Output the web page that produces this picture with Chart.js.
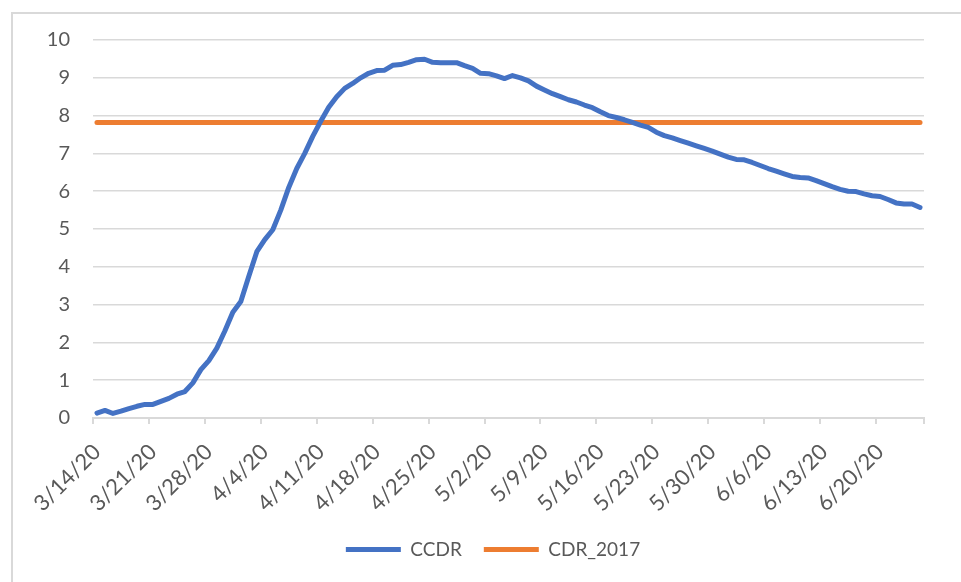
<!DOCTYPE html>
<html>
<head>
<meta charset="utf-8">
<script src="https://cdn.jsdelivr.net/npm/chart.js@4/dist/chart.umd.min.js"></script>
<style>
  html, body { margin: 0; padding: 0; background: #ffffff; }
  #wrap { position: relative; width: 961px; height: 582px; }
  canvas { display: block; }
</style>
</head>
<body>
<div id="wrap"><canvas id="c" width="961" height="582"></canvas></div>
<script>
const categories = [
  "3/14/20","3/15/20","3/16/20","3/17/20","3/18/20","3/19/20","3/20/20","3/21/20","3/22/20","3/23/20",
  "3/24/20","3/25/20","3/26/20","3/27/20","3/28/20","3/29/20","3/30/20","3/31/20",
  "4/1/20","4/2/20","4/3/20","4/4/20","4/5/20","4/6/20","4/7/20","4/8/20","4/9/20","4/10/20",
  "4/11/20","4/12/20","4/13/20","4/14/20","4/15/20","4/16/20","4/17/20","4/18/20","4/19/20","4/20/20",
  "4/21/20","4/22/20","4/23/20","4/24/20","4/25/20","4/26/20","4/27/20","4/28/20","4/29/20","4/30/20",
  "5/1/20","5/2/20","5/3/20","5/4/20","5/5/20","5/6/20","5/7/20","5/8/20","5/9/20","5/10/20",
  "5/11/20","5/12/20","5/13/20","5/14/20","5/15/20","5/16/20","5/17/20","5/18/20","5/19/20","5/20/20",
  "5/21/20","5/22/20","5/23/20","5/24/20","5/25/20","5/26/20","5/27/20","5/28/20","5/29/20","5/30/20","5/31/20",
  "6/1/20","6/2/20","6/3/20","6/4/20","6/5/20","6/6/20","6/7/20","6/8/20","6/9/20","6/10/20",
  "6/11/20","6/12/20","6/13/20","6/14/20","6/15/20","6/16/20","6/17/20","6/18/20","6/19/20","6/20/20",
  "6/21/20","6/22/20","6/23/20","6/24/20","6/25/20"
];

const ccdr = [
  0.13, 0.20, 0.12, 0.18, 0.25, 0.31, 0.36, 0.36, 0.44, 0.52,
  0.63, 0.70, 0.93, 1.28, 1.52, 1.85, 2.30, 2.80, 3.08, 3.75,
  4.40, 4.72, 4.98, 5.50, 6.10, 6.60, 7.00, 7.45, 7.85, 8.22,
  8.50, 8.72, 8.85, 9.00, 9.12, 9.19, 9.20, 9.33, 9.35, 9.41,
  9.48, 9.49, 9.41, 9.40, 9.40, 9.40, 9.32, 9.25, 9.12, 9.11,
  9.05, 8.98, 9.06, 9.00, 8.92, 8.78, 8.68, 8.58, 8.50, 8.42,
  8.36, 8.28, 8.21, 8.10, 8.00, 7.95, 7.89, 7.82, 7.75, 7.69,
  7.56, 7.47, 7.41, 7.34, 7.27, 7.20, 7.13, 7.06, 6.98, 6.90,
  6.84, 6.83, 6.76, 6.68, 6.60, 6.53, 6.46, 6.39, 6.36, 6.35,
  6.28, 6.20, 6.12, 6.05, 6.00, 5.99, 5.93, 5.88, 5.86, 5.78,
  5.69, 5.66, 5.66, 5.57
];

const cdr2017 = [
  7.82, 7.82, 7.82, 7.82, 7.82, 7.82, 7.82, 7.82, 7.82, 7.82,
  7.82, 7.82, 7.82, 7.82, 7.82, 7.82, 7.82, 7.82, 7.82, 7.82,
  7.82, 7.82, 7.82, 7.82, 7.82, 7.82, 7.82, 7.82, 7.82, 7.82,
  7.82, 7.82, 7.82, 7.82, 7.82, 7.82, 7.82, 7.82, 7.82, 7.82,
  7.82, 7.82, 7.82, 7.82, 7.82, 7.82, 7.82, 7.82, 7.82, 7.82,
  7.82, 7.82, 7.82, 7.82, 7.82, 7.82, 7.82, 7.82, 7.82, 7.82,
  7.82, 7.82, 7.82, 7.82, 7.82, 7.82, 7.82, 7.82, 7.82, 7.82,
  7.82, 7.82, 7.82, 7.82, 7.82, 7.82, 7.82, 7.82, 7.82, 7.82,
  7.82, 7.82, 7.82, 7.82, 7.82, 7.82, 7.82, 7.82, 7.82, 7.82,
  7.82, 7.82, 7.82, 7.82, 7.82, 7.82, 7.82, 7.82, 7.82, 7.82,
  7.82, 7.82, 7.82, 7.82
];

const yTicks = [0, 1, 2, 3, 4, 5, 6, 7, 8, 9, 10];
const labelEvery = 7;

const FONT = "Lato, 'Open Sans', sans-serif";
const TEXT = '#595959';
const GRID = '#d9d9d9';

const frame = {
  id: 'frame',
  beforeDraw(chart) {
    const ctx = chart.ctx;
    ctx.save();
    ctx.strokeStyle = GRID;
    ctx.lineWidth = 2;
    ctx.beginPath();
    ctx.moveTo(12, 582);
    ctx.lineTo(12, 13);
    ctx.lineTo(961, 13);
    ctx.stroke();
    ctx.restore();
  }
};

new Chart(document.getElementById('c'), {
  type: 'line',
  data: {
    labels: categories,
    datasets: [
      {
        label: 'CCDR',
        data: ccdr,
        borderColor: '#4472c4',
        backgroundColor: '#4472c4',
        borderWidth: 5,
        borderCapStyle: 'round',
        borderJoinStyle: 'round',
        pointRadius: 0,
        tension: 0,
        fill: false
      },
      {
        label: 'CDR_2017',
        data: cdr2017,
        borderColor: '#ed7d31',
        backgroundColor: '#ed7d31',
        borderWidth: 5,
        borderCapStyle: 'round',
        borderJoinStyle: 'round',
        pointRadius: 0,
        tension: 0,
        fill: false
      }
    ]
  },
  options: {
    responsive: false,
    animation: false,
    layout: { padding: { left: 25, right: 0, top: 40, bottom: 13 } },
    plugins: {
      tooltip: { enabled: false },
      legend: {
        position: 'bottom',
        labels: {
          usePointStyle: true,
          pointStyle: 'line',
          pointStyleWidth: 55,
          boxHeight: 18,
          padding: 22,
          color: TEXT,
          font: { family: FONT, size: 19 }
        }
      }
    },
    scales: {
      x: {
        type: 'category',
        offset: true,
        afterFit(scale) { scale.height = 100; },
        border: { display: true, color: GRID, width: 2 },
        grid: {
          offset: true,
          drawOnChartArea: false,
          drawTicks: true,
          tickLength: 6,
          lineWidth: 2,
          color: (ctx) => (ctx.index === undefined || ctx.index % labelEvery === 0) ? GRID : 'rgba(0,0,0,0)'
        },
        ticks: {
          autoSkip: false,
          maxRotation: 45,
          minRotation: 45,
          padding: 15,
          color: TEXT,
          font: { family: FONT, size: 22 },
          callback: function (value, index) {
            return index % labelEvery === 0 ? this.getLabelForValue(value) : '';
          }
        }
      },
      y: {
        min: yTicks[0],
        max: yTicks[yTicks.length - 1],
        afterFit(scale) { scale.width = 68; },
        afterBuildTicks(scale) { scale.ticks = yTicks.map(v => ({ value: v })); },
        border: { display: false },
        grid: { color: GRID, lineWidth: 1.5, drawTicks: false },
        ticks: {
          padding: 23,
          color: TEXT,
          font: { family: FONT, size: 20 }
        }
      },
      yRight: {
        type: 'linear',
        position: 'right',
        display: true,
        afterFit(scale) { scale.width = 37; },
        border: { display: false },
        grid: { drawOnChartArea: false, drawTicks: false, display: false },
        ticks: { display: false }
      }
    }
  },
  plugins: [frame]
});
</script>
</body>
</html>
